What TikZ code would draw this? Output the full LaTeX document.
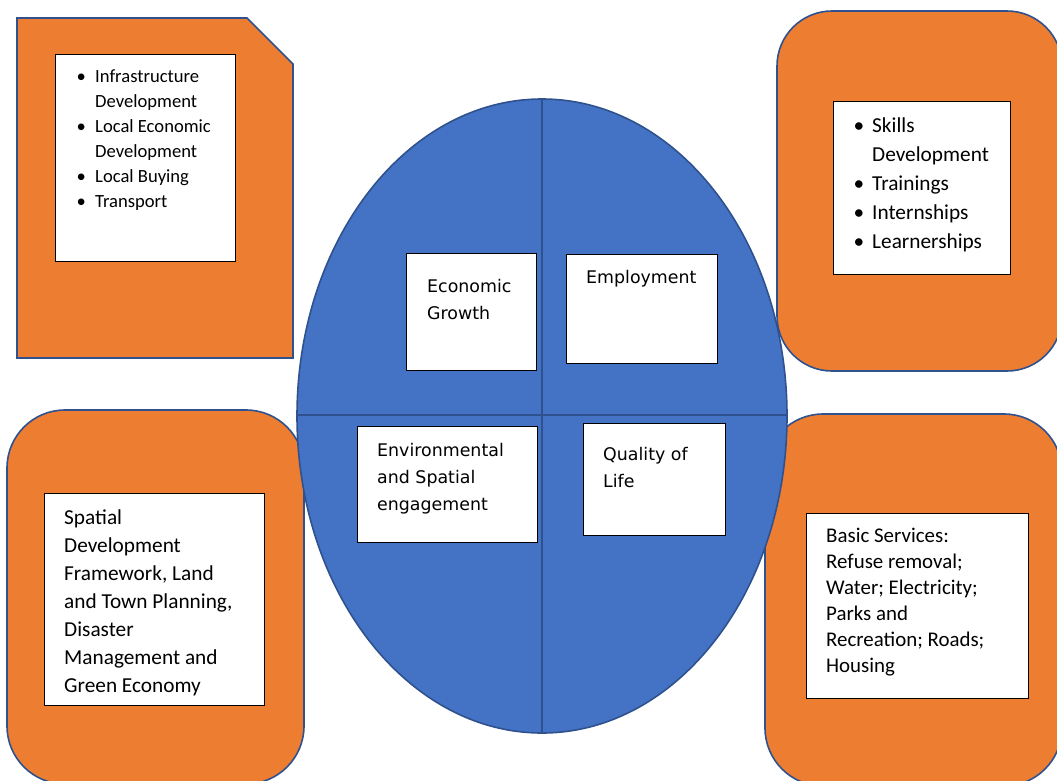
\documentclass[tikz,border=0pt]{standalone}
\usepackage{fontspec}
\setmainfont{Carlito}
\newfontfamily\quadfont{DejaVu Sans}
\usetikzlibrary{positioning}

\definecolor{pillar}{HTML}{ED7D31}
\definecolor{core}{HTML}{4472C4}
\definecolor{rim}{HTML}{2F528F}

\def\bul{\makebox[18.5pt][l]{\textbullet}}
\def\ind{\hspace*{18.5pt}}

\tikzset{
  pillarbox/.style={fill=pillar,draw=rim,line width=1.6pt},
  coreshape/.style={fill=core,draw=rim,line width=1.6pt},
  whitebox/.style={fill=white,draw=black,line width=1pt,inner sep=0pt},
  boxtext/.style={anchor=north west,inner sep=0pt,align=left},
  quadtext/.style={boxtext,font=\quadfont\fontsize{17.4}{27}\selectfont}
}

\begin{document}
\begin{tikzpicture}[x=1pt,y=-1pt]
  \useasboundingbox (0,0) rectangle (1057,780);

  % four outer pillars
  \draw[pillarbox] (17,18) -- (247,18) -- (293,64) -- (293,358) -- (17,358) -- cycle;
  \draw[pillarbox,rounded corners=55pt] (777,11) rectangle (1062,371);
  \draw[pillarbox,rounded corners=58pt] (7,410) rectangle (304,784);
  \draw[pillarbox,rounded corners=58pt] (765,414) rectangle (1062,786);

  % central ellipse cut in quarters
  \draw[coreshape] (542,416) ellipse [x radius=245pt,y radius=317pt];
  \draw[rim,line width=1.6pt] (542,99) -- (542,733);
  \draw[rim,line width=1.6pt] (297,415) -- (787,415);

  % boxes in the pillars
  \node[whitebox,minimum width=180pt,minimum height=207pt] (infra) at (145,157.5) {};
  \node[boxtext,font=\fontsize{18.6}{25}\selectfont] at (76.5,70)
    {\bul Infrastructure\\\ind Development\\\bul Local Economic\\\ind Development\\\bul Local Buying\\\bul Transport};

  \node[whitebox,minimum width=177pt,minimum height=173pt] (skills) at (921.5,187.5) {};
  \node[boxtext,font=\fontsize{21.3}{29}\selectfont] at (853.5,118)
    {\bul Skills\\\ind Development\\\bul Trainings\\\bul Internships\\\bul Learnerships};

  \node[whitebox,minimum width=220pt,minimum height=212pt] (spatial) at (154,599) {};
  \node[boxtext,font=\fontsize{21.3}{28}\selectfont] at (64,509)
    {Spatial\\Development\\Framework, Land\\and Town Planning,\\Disaster\\Management and\\Green Economy};

  \node[whitebox,minimum width=222pt,minimum height=185pt] (services) at (917,605.5) {};
  \node[boxtext,font=\fontsize{20.9}{26}\selectfont] at (826,528)
    {Basic Services:\\Refuse removal;\\Water; Electricity;\\Parks and\\Recreation; Roads;\\Housing};

  % boxes in the quarters
  \node[whitebox,minimum width=130pt,minimum height=117pt] (growth) at (471,311.5) {};
  \node[quadtext] at (427,279) {Economic\\Growth};

  \node[whitebox,minimum width=151pt,minimum height=109pt] (employ) at (641.5,308.5) {};
  \node[quadtext] at (586,270) {Employment};

  \node[whitebox,minimum width=180pt,minimum height=116pt] (environ) at (447,484) {};
  \node[quadtext] at (377,443) {Environmental\\and Spatial\\engagement};

  \node[whitebox,minimum width=142pt,minimum height=112pt] (quality) at (654,479) {};
  \node[quadtext] at (603,447) {Quality of\\Life};
\end{tikzpicture}
\end{document}
